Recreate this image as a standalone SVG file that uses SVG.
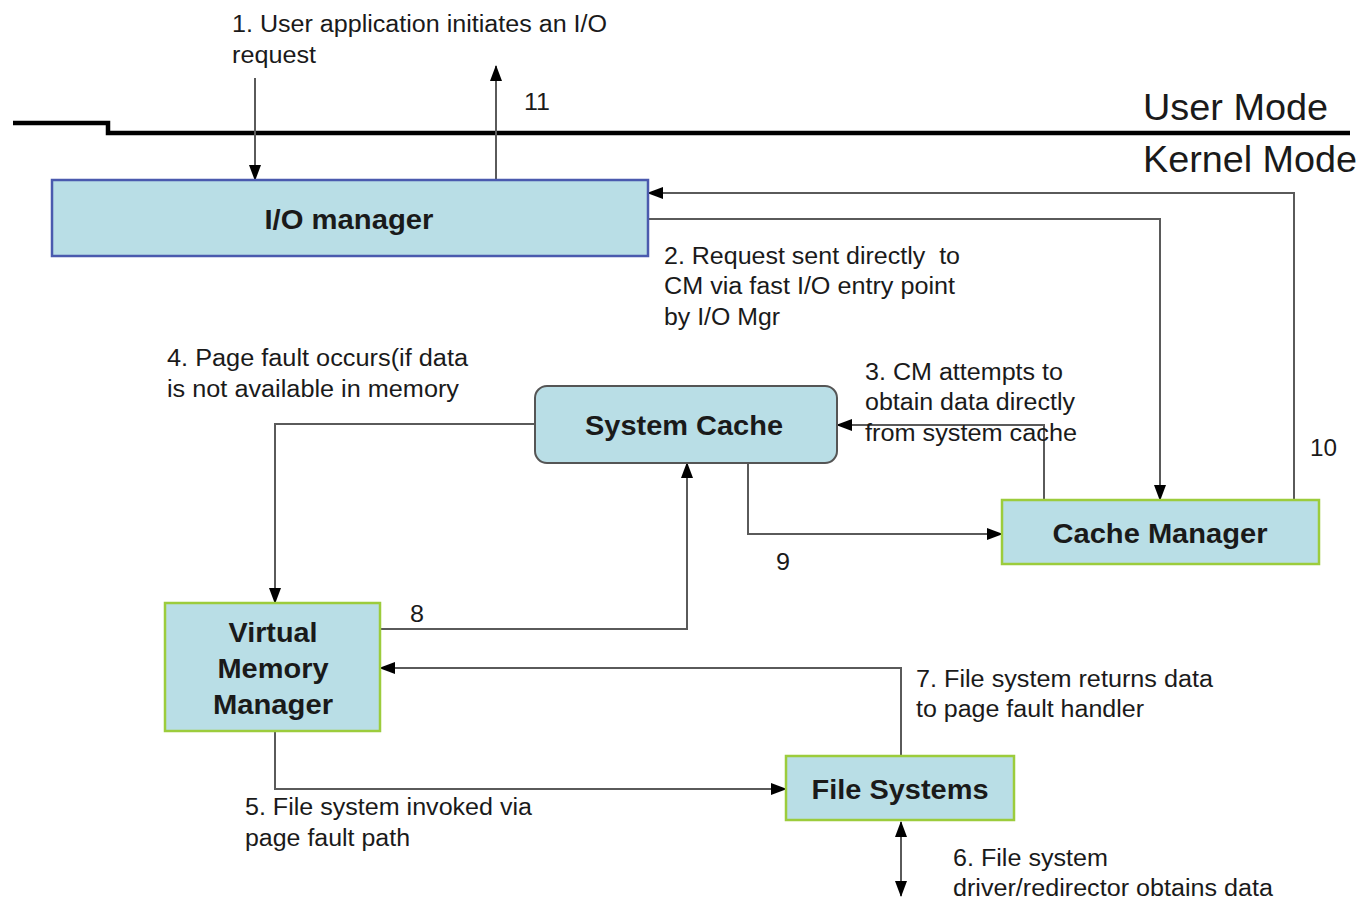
<svg xmlns="http://www.w3.org/2000/svg" width="1361" height="902" viewBox="0 0 1361 902">
<style>
.lbl{font-family:"Liberation Sans",Arial,sans-serif;font-size:23px;fill:#1a1a1a}
.big{font-family:"Liberation Sans",Arial,sans-serif;font-size:37px;fill:#1a1a1a}
.nt{font-family:"Liberation Sans",Arial,sans-serif;font-size:28px;font-weight:bold;fill:#1a1a1a;text-anchor:middle}
.box{fill:#b9dee6;stroke:#9ccc3c;stroke-width:2.5}
.conn{fill:none;stroke:#5a5a5a;stroke-width:2}
</style>
<defs>
<marker id="ah" markerUnits="userSpaceOnUse" markerWidth="16" markerHeight="16" viewBox="0 0 16 16" refX="15" refY="8" orient="auto-start-reverse">
<path d="M0,2 L16,8 L0,14 Z" fill="#000"/>
</marker>
</defs>
<rect width="1361" height="902" fill="#fff"/>
<g id="mode-line">
<polyline points="13,123 108,123 108,133 1350,133" fill="none" stroke="#000" stroke-width="4.5"/>
<text class="big" x="1143" y="120" textLength="185" lengthAdjust="spacingAndGlyphs">User Mode</text>
<text class="big" x="1143" y="172" textLength="214" lengthAdjust="spacingAndGlyphs">Kernel Mode</text>
</g>
<g id="connectors">
<line class="conn" x1="255" y1="78" x2="255" y2="180" marker-end="url(#ah)"/>
<line class="conn" x1="496" y1="180" x2="496" y2="66" marker-end="url(#ah)"/>
<polyline class="conn" points="648,219 1160,219 1160,500" marker-end="url(#ah)"/>
<polyline class="conn" points="1294,500 1294,193 648,193" marker-end="url(#ah)"/>
<polyline class="conn" points="1044,500 1044,425 837,425" marker-end="url(#ah)"/>
<polyline class="conn" points="748,463 748,534 1002,534" marker-end="url(#ah)"/>
<polyline class="conn" points="535,424 275,424 275,603" marker-end="url(#ah)"/>
<polyline class="conn" points="380,629 687,629 687,463" marker-end="url(#ah)"/>
<polyline class="conn" points="901,756 901,668 380,668" marker-end="url(#ah)"/>
<polyline class="conn" points="275,731 275,789 786,789" marker-end="url(#ah)"/>
<line class="conn" x1="901" y1="822" x2="901" y2="896" marker-start="url(#ah)" marker-end="url(#ah)"/>
</g>
<g id="labels">
<text class="lbl" x="232" y="32" textLength="375" lengthAdjust="spacingAndGlyphs">1. User application initiates an I/O</text>
<text class="lbl" x="232" y="63" textLength="84" lengthAdjust="spacingAndGlyphs">request</text>
<text class="lbl" x="524" y="110" textLength="26" lengthAdjust="spacingAndGlyphs">11</text>
<text class="lbl" x="664" y="264" textLength="296" lengthAdjust="spacingAndGlyphs">2. Request sent directly&#160; to</text>
<text class="lbl" x="664" y="294" textLength="291" lengthAdjust="spacingAndGlyphs">CM via fast I/O entry point</text>
<text class="lbl" x="664" y="325" textLength="116" lengthAdjust="spacingAndGlyphs">by I/O Mgr</text>
<text class="lbl" x="865" y="380" textLength="198" lengthAdjust="spacingAndGlyphs">3. CM attempts to</text>
<text class="lbl" x="865" y="410" textLength="210" lengthAdjust="spacingAndGlyphs">obtain data directly</text>
<text class="lbl" x="865" y="441" textLength="212" lengthAdjust="spacingAndGlyphs">from system cache</text>
<text class="lbl" x="1310" y="456" textLength="27" lengthAdjust="spacingAndGlyphs">10</text>
<text class="lbl" x="167" y="366" textLength="301" lengthAdjust="spacingAndGlyphs">4. Page fault occurs(if data</text>
<text class="lbl" x="167" y="397" textLength="292" lengthAdjust="spacingAndGlyphs">is not available in memory</text>
<text class="lbl" x="776" y="570" textLength="14" lengthAdjust="spacingAndGlyphs">9</text>
<text class="lbl" x="410" y="622" textLength="14" lengthAdjust="spacingAndGlyphs">8</text>
<text class="lbl" x="916" y="687" textLength="297" lengthAdjust="spacingAndGlyphs">7. File system returns data</text>
<text class="lbl" x="916" y="717" textLength="228" lengthAdjust="spacingAndGlyphs">to page fault handler</text>
<text class="lbl" x="245" y="815" textLength="287" lengthAdjust="spacingAndGlyphs">5. File system invoked via</text>
<text class="lbl" x="245" y="846" textLength="165" lengthAdjust="spacingAndGlyphs">page fault path</text>
<text class="lbl" x="953" y="866" textLength="155" lengthAdjust="spacingAndGlyphs">6. File system</text>
<text class="lbl" x="953" y="896" textLength="320" lengthAdjust="spacingAndGlyphs">driver/redirector obtains data</text>
</g>
<g id="io-manager">
<rect x="52" y="180" width="596" height="76" fill="#b9dee6" stroke="#4a5aae" stroke-width="2.5"/>
<text class="nt" x="349" y="229" textLength="169" lengthAdjust="spacingAndGlyphs">I/O manager</text>
</g>
<g id="system-cache">
<rect x="535" y="386" width="302" height="77" rx="12" fill="#b9dee6" stroke="#555" stroke-width="2"/>
<text class="nt" x="684" y="435" textLength="198" lengthAdjust="spacingAndGlyphs">System Cache</text>
</g>
<g id="cache-manager">
<rect class="box" x="1002" y="500" width="317" height="64"/>
<text class="nt" x="1160" y="543" textLength="215" lengthAdjust="spacingAndGlyphs">Cache Manager</text>
</g>
<g id="virtual-memory-manager">
<rect class="box" x="165" y="603" width="215" height="128"/>
<text class="nt" x="273" y="642" textLength="89" lengthAdjust="spacingAndGlyphs">Virtual</text>
<text class="nt" x="273" y="678" textLength="111" lengthAdjust="spacingAndGlyphs">Memory</text>
<text class="nt" x="273" y="714" textLength="120" lengthAdjust="spacingAndGlyphs">Manager</text>
</g>
<g id="file-systems">
<rect class="box" x="786" y="756" width="228" height="64"/>
<text class="nt" x="900" y="799" textLength="177" lengthAdjust="spacingAndGlyphs">File Systems</text>
</g>
</svg>
